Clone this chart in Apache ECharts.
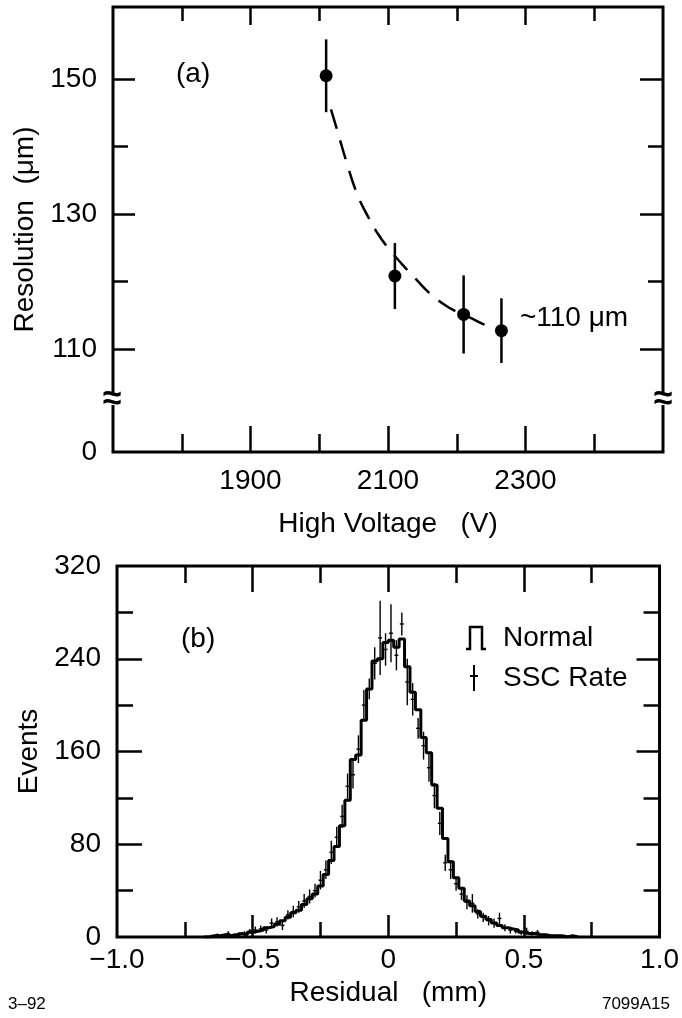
<!DOCTYPE html>
<html><head><meta charset="utf-8">
<script src="https://cdn.jsdelivr.net/npm/echarts@6/dist/echarts.min.js"></script>
<style>html,body{margin:0;padding:0;background:#fff}#c{width:682px;height:1018px}</style>
</head><body><div id="c"></div>
<script>
// ---------- Panel (a): resolution vs high voltage ----------
const voltage        = [2010, 2110, 2210, 2265];
const resolution     = [150.5, 120.8, 115.1, 112.7];
const resolutionErr  = [5.4, 4.9, 5.8, 4.8];
const fitVoltage     = [2017, 2025, 2040, 2055, 2070, 2085, 2100, 2120, 2140, 2160, 2180, 2200, 2220, 2240, 2262];
const fitResolution  = [145.5, 142.8, 137.6, 133.0, 129.8, 127.1, 125.0, 122.6, 120.4, 118.3, 116.7, 115.5, 114.6, 113.6, 112.7];
const voltageMajorTicks    = [1900, 2100, 2300];
const voltageMinorTicks    = [1800, 2000, 2200, 2400];
const resolutionMajorTicks = [110, 130, 150];
const resolutionMinorTicks = [120, 140];
const annotationA = '~110 \u03bcm';

// ---------- Panel (b): residual distributions ----------
const BIN_START = -0.68, BIN_WIDTH = 0.02;
const normalCounts = [0, 1, 1, 2, 1, 2, 3, 2, 4, 5, 6, 8, 9, 11, 14, 17, 21, 23, 28, 33, 37, 44, 54, 66, 78, 96, 118, 153, 157, 187, 214, 238, 240, 254, 256, 250, 257, 233, 211, 196, 172, 159, 131, 111, 85, 65, 51, 42, 31, 27, 22, 18, 15, 12, 10, 8, 7, 6, 4, 3, 3, 2, 2, 1, 1, 1, 0, 1, 0];
const sscCounts = [null, 1, 2, 1, 3, 2, 2, 3, 5, 6, 7, 6, 12, 13, 10, 19, 22, 26, 31, 35, 40, 49, 58, 73, 86, 104, 130, 140, 162, 200, 214, 236, 258, 248, 262, 243, 270, 220, 205, 180, 165, 146, 122, 98, 64, 58, 46, 37, 30, 29, 20, 17, 14, 12, 16, 8, 6, 5, 4, 5, 3, 4, 2, 1, 1, null, 1, null, null];
const sscErr    = [null, 1, 1, 1, 2, 1, 2, 2, 2, 3, 3, 3, 4, 4, 4, 4, 5, 5, 6, 6, 6, 8, 8, 10, 9, 10, 11, 12, 12, 13, 9, 14, 32, 14, 25, 13, 10, 20, 14, 9, 12, 12, 11, 10, 7, 8, 6, 5, 6, 8, 4, 4, 4, 4, 5, 3, 3, 2, 2, 3, 2, 2, 1, 1, 1, null, 1, null, null];
const residualLabels     = [-1, -0.5, 0, 0.5, 1];
const residualMajorTicks = [-0.5, 0, 0.5];
const residualMinorTicks = [-0.75, -0.25, 0.25, 0.75];
const eventsLabels       = [0, 80, 160, 240, 320];
const eventsMajorTicks   = [80, 160, 240];
const eventsMinorTicks   = [40, 120, 200, 280];

// ---------- layout / style ----------
const FONT = '"Liberation Sans", Arial, Helvetica, sans-serif';
const A = { xmin: 1700, xmax: 2500, ymin: 94.7, ymax: 160.7 };
const B = { xmin: -1, xmax: 1, ymin: 0, ymax: 320 };

function r6(v) { return Math.round(v * 1e6) / 1e6; }

function axis(grid, pos, min, max, ticks, len, label) {
  const ax = {
    type: 'value', gridIndex: grid, position: pos, min: min, max: max,
    axisLine: { show: false, onZero: false },
    splitLine: { show: false },
    axisTick: { show: true, inside: true, length: len, customValues: ticks, lineStyle: { color: '#000', width: 2.5 } },
    axisLabel: { show: false }
  };
  if (label) {
    ax.axisLabel = Object.assign({ show: true, color: '#000', fontSize: 28, fontFamily: FONT }, label);
  }
  return ax;
}

const fmtResidual = v => v === 0 ? '0' : (v < 0 ? '\u2212' : '') + Math.abs(v).toFixed(1);
const nameStyle = { fontSize: 28, fontFamily: FONT, color: '#000' };

const xAxes = [
  Object.assign(axis(0, 'bottom', A.xmin, A.xmax, voltageMajorTicks, 26,
    { customValues: voltageMajorTicks, margin: 15, formatter: v => String(v) }),
    { name: 'High Voltage   (V)', nameLocation: 'middle', nameGap: 58, nameTextStyle: nameStyle }),
  axis(0, 'bottom', A.xmin, A.xmax, voltageMinorTicks, 18),
  axis(0, 'top', A.xmin, A.xmax, voltageMajorTicks, 18),
  axis(0, 'top', A.xmin, A.xmax, voltageMinorTicks, 14),
  Object.assign(axis(1, 'bottom', B.xmin, B.xmax, residualMajorTicks, 22,
    { customValues: residualLabels, formatter: fmtResidual, margin: 9 }),
    { name: 'Residual   (mm)', nameLocation: 'middle', nameGap: 42, nameTextStyle: nameStyle }),
  axis(1, 'bottom', B.xmin, B.xmax, residualMinorTicks, 15),
  axis(1, 'top', B.xmin, B.xmax, residualMajorTicks, 26),
  axis(1, 'top', B.xmin, B.xmax, residualMinorTicks, 17)
];

const yAxes = [
  Object.assign(axis(0, 'left', A.ymin, A.ymax, resolutionMajorTicks, 22,
    { customValues: [A.ymin].concat(resolutionMajorTicks), margin: 16,
      formatter: v => Math.abs(v - A.ymin) < 1e-6 ? '0' : String(v) }),
    { name: 'Resolution  (\u03bcm)', nameLocation: 'middle', nameGap: 70, nameTextStyle: nameStyle }),
  axis(0, 'left', A.ymin, A.ymax, resolutionMinorTicks, 15),
  axis(0, 'right', A.ymin, A.ymax, resolutionMajorTicks, 23),
  axis(0, 'right', A.ymin, A.ymax, resolutionMinorTicks, 15),
  Object.assign(axis(1, 'left', B.ymin, B.ymax, eventsMajorTicks, 25,
    { customValues: eventsLabels, margin: 16 }),
    { name: 'Events', nameLocation: 'middle', nameGap: 68, nameTextStyle: nameStyle }),
  axis(1, 'left', B.ymin, B.ymax, eventsMinorTicks, 16),
  axis(1, 'right', B.ymin, B.ymax, eventsMajorTicks, 23),
  axis(1, 'right', B.ymin, B.ymax, eventsMinorTicks, 16)
];

// data assembly
const pointData = voltage.map((v, i) => i === voltage.length - 1
  ? { value: [v, resolution[i]], label: { show: true, formatter: annotationA, position: 'right', distance: 12,
      offset: [0, -12], color: '#000', fontSize: 28, fontFamily: FONT } }
  : [v, resolution[i]]);
const errData = voltage.map((v, i) => [v, resolution[i], resolutionErr[i]]);
const fitData = fitVoltage.map((v, i) => [v, fitResolution[i]]);

const normalData = normalCounts.map((c, i) => [r6(BIN_START + i * BIN_WIDTH), c]);
normalData.push([r6(BIN_START + normalCounts.length * BIN_WIDTH), 0]);
const sscData = [];
sscCounts.forEach((c, i) => {
  if (c !== null) sscData.push([r6(BIN_START + (i + 0.5) * BIN_WIDTH), c, sscErr[i]]);
});

function breakMark(x, y) {
  return {
    type: 'group', children: [
      { type: 'rect', shape: { x: x - 5, y: y - 6, width: 10, height: 11 }, style: { fill: '#fff' } },
      { type: 'text', x: x, y: y, style: { text: '\u2248', fontSize: 34, fontWeight: 'bold', fontFamily: FONT, fill: '#000',
        align: 'center', verticalAlign: 'middle' } }
    ]
  };
}

const option = {
  backgroundColor: '#fff',
  animation: false,
  grid: [
    { left: 113, top: 7, width: 550, height: 445, show: true, borderColor: '#000', borderWidth: 3, containLabel: false },
    { left: 117, top: 566, width: 551, height: 371, show: true, borderColor: '#000', borderWidth: 3, containLabel: false }
  ],
  xAxis: xAxes,
  yAxis: yAxes,
  graphic: [
    { type: 'text', left: 176, top: 60, style: { text: '(a)', fontSize: 28, fontFamily: FONT, fill: '#000' } },
    { type: 'text', left: 181, top: 625, style: { text: '(b)', fontSize: 28, fontFamily: FONT, fill: '#000' } },
    breakMark(112, 400),
    breakMark(663, 400),
    { type: 'polyline', shape: { points: [[466, 649], [470, 649], [470, 627], [482, 627], [482, 649], [486, 649]] },
      style: { stroke: '#000', lineWidth: 2.5, fill: null } },
    { type: 'text', left: 503, top: 624, style: { text: 'Normal', fontSize: 28, fontFamily: FONT, fill: '#000' } },
    { type: 'line', shape: { x1: 474, y1: 665, x2: 474, y2: 691 }, style: { stroke: '#000', lineWidth: 2 } },
    { type: 'line', shape: { x1: 470, y1: 676, x2: 478, y2: 676 }, style: { stroke: '#000', lineWidth: 2 } },
    { type: 'text', left: 503, top: 664, style: { text: 'SSC Rate', fontSize: 28, fontFamily: FONT, fill: '#000' } },
    { type: 'text', left: 8, top: 996, style: { text: '3\u201392', fontSize: 17, fontFamily: FONT, fill: '#000' } },
    { type: 'text', right: 12, top: 996, style: { text: '7099A15', fontSize: 17, fontFamily: FONT, fill: '#000' } }
  ],
  series: [
    { name: 'Fit', type: 'line', xAxisIndex: 0, yAxisIndex: 0, data: fitData, smooth: true, symbol: 'none',
      lineStyle: { color: '#000', width: 2.5, type: [20, 12] }, z: 2 },
    { name: 'Error', type: 'custom', xAxisIndex: 0, yAxisIndex: 0, data: errData,
      encode: { x: 0, y: 1 },
      renderItem: (params, api) => {
        const x = api.value(0), y = api.value(1), e = api.value(2);
        const p1 = api.coord([x, y + e]), p2 = api.coord([x, y - e]);
        return { type: 'line', shape: { x1: p1[0], y1: p1[1], x2: p2[0], y2: p2[1] },
          style: { stroke: '#000', lineWidth: 2.5 } };
      }, z: 3 },
    { name: 'Resolution', type: 'scatter', xAxisIndex: 0, yAxisIndex: 0, data: pointData, symbol: 'circle',
      symbolSize: 13, itemStyle: { color: '#000', opacity: 1 }, z: 4 },
    { name: 'Normal', type: 'line', xAxisIndex: 4, yAxisIndex: 4, data: normalData, step: 'end', symbol: 'none',
      lineStyle: { color: '#000', width: 3 }, z: 3 },
    { name: 'SSC Rate', type: 'custom', xAxisIndex: 4, yAxisIndex: 4, data: sscData,
      encode: { x: 0, y: 1 },
      renderItem: (params, api) => {
        const x = api.value(0), y = api.value(1), e = api.value(2);
        const p1 = api.coord([x, y + e]), p2 = api.coord([x, y - e]), c = api.coord([x, y]);
        return { type: 'group', children: [
          { type: 'line', shape: { x1: p1[0], y1: p1[1], x2: p2[0], y2: p2[1] }, style: { stroke: '#000', lineWidth: 1.4 } },
          { type: 'line', shape: { x1: c[0] - 2, y1: c[1], x2: c[0] + 2, y2: c[1] }, style: { stroke: '#000', lineWidth: 1.4 } }
        ] };
      }, z: 4 }
  ]
};

const chart = echarts.init(document.getElementById('c'), null, { renderer: 'canvas' });
chart.setOption(option);
</script>
</body></html>
